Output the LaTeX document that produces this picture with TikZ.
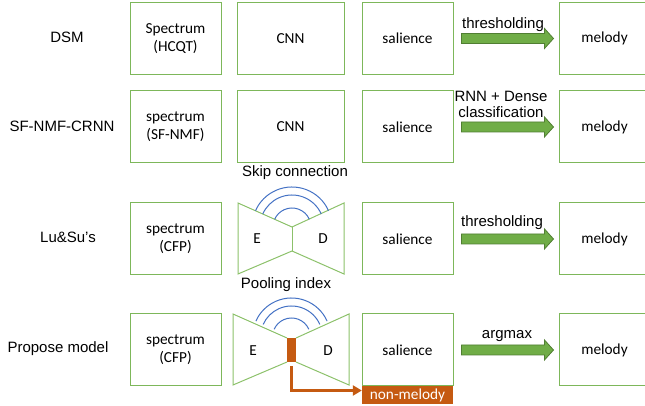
\documentclass[tikz,border=0pt]{standalone}
\usepackage{fontspec}
\setmainfont{Liberation Sans}
\newfontfamily\calfont{Carlito}
\usetikzlibrary{arrows.meta,calc}
\definecolor{boxgreen}{HTML}{7DB75A}
\definecolor{trapgreen}{HTML}{8CC16A}
\definecolor{arrowfill}{HTML}{70AD47}
\definecolor{arrowline}{HTML}{507E32}
\definecolor{arcblue}{HTML}{4472C4}
\definecolor{orangec}{HTML}{C55A11}
\newcommand\garrow[2]{%
  \path ($(#1.east)+(8,0)$) coordinate (ta) ($(#2.west)+(-5,0)$) coordinate (tp);
  \draw[garrowstyle] ($(ta)+(0,5)$) -- ($(tp)+(-9,5)$) -- ($(tp)+(-9,10)$) -- (tp)
    -- ($(tp)+(-9,-10)$) -- ($(tp)+(-9,-5)$) -- ($(ta)+(0,-5)$) -- cycle;}
\newcommand\skiparcs[4]{% center x, center y, outer radius, middle radius
  \foreach \r in {#3,#4,19}{
    \draw[arcstyle] ($(#1,#2)+({\r*cos(24)},{\r*sin(24)})$) arc[start angle=24, end angle=156, radius=\r pt];
  }}
\begin{document}
\begin{tikzpicture}[x=1pt,y=1pt,
  box/.style={draw=boxgreen, line width=1pt, minimum width=91pt, minimum height=72pt,
    inner sep=0pt, align=center, font=\calfont\fontsize{15.3}{18}\selectfont},
  widebox/.style={box, minimum width=107pt},
  lbl/.style={font=\fontsize{15}{17}\selectfont, inner sep=0pt, align=center},
  edtext/.style={font=\calfont\fontsize{15.3}{18}\selectfont, inner sep=0pt},
  trap/.style={draw=trapgreen, line width=1pt, line join=miter},
  arcstyle/.style={draw=arcblue, line width=1pt},
  garrowstyle/.style={fill=arrowfill, draw=arrowline, line width=0.8pt, line join=miter},
  bneckstyle/.style={fill=orangec, draw=none, minimum width=9pt, minimum height=24pt, inner sep=0pt},
  nmstyle/.style={fill=orangec, draw=none, minimum width=91pt, minimum height=18pt, inner sep=0pt,
    text=white, font=\calfont\fontsize{15.3}{18}\selectfont},
  oarrow/.style={draw=orangec, line width=3.5pt, -{Triangle[length=9pt,width=10pt]}}
]
\useasboundingbox (0,0) rectangle (645,406);

% left labels
\node[lbl] (l1) at (67,369) {DSM};
\node[lbl] (l2) at (62,280) {SF-NMF-CRNN};
\node[lbl] (l3) at (68,169) {Lu\&Su’s};
\node[lbl] (l4) at (58,57) {Propose model};

% row 1
\node[box] (spec1) at (175.5,367.5) {Spectrum\\(HCQT)};
\node[widebox] (cnn1) at (290.5,367.5) {CNN};
\node[box] (sal1) at (407.5,367.5) {salience};
\node[box] (mel1) at (604.5,367.5) {melody};
\garrow{sal1}{mel1}
\node[lbl] (t1) at (503,381) {thresholding};

% row 2
\node[box] (spec2) at (175.5,279) {spectrum\\(SF-NMF)};
\node[widebox] (cnn2) at (290.5,279) {CNN};
\node[box] (sal2) at (407.5,279) {salience};
\node[box] (mel2) at (604.5,279) {melody};
\garrow{sal2}{mel2}
\node[lbl, font=\fontsize{15}{16}\selectfont] (t2) at (501,302) {RNN + Dense\\classification};

% row 3
\node[lbl] (skip) at (295,233) {Skip connection};
\node[box] (spec3) at (175.5,167) {spectrum\\(CFP)};
\draw[trap] (238,203) -- (292,179) -- (344,203) -- (344,132) -- (292,155) -- (238,132) -- cycle;
\draw[trap] (292,179) -- (292,155);
\skiparcs{292}{179}{40}{32}
\node[edtext] (e3) at (257,167) {E};
\node[edtext] (d3) at (323,167) {D};
\node[box] (sal3) at (407.5,167) {salience};
\node[box] (mel3) at (604.5,167) {melody};
\garrow{sal3}{mel3}
\node[lbl] (t3) at (502,183) {thresholding};

% row 4
\node[lbl] (pool) at (286,121) {Pooling index};
\node[box] (spec4) at (175.5,56) {spectrum\\(CFP)};
\draw[trap] (287,68) -- (233,92) -- (233,21) -- (287,44);
\draw[trap] (296,68) -- (349,92) -- (349,21) -- (296,44);
\skiparcs{291.5}{69}{39}{31}
\node[bneckstyle] (bneck) at (291.5,56) {};
\node[edtext] (e4) at (253,55) {E};
\node[edtext] (d4) at (328,55) {D};
\node[box] (sal4) at (407.5,56) {salience};
\node[nmstyle] (nm) at (407.5,11) {non-melody};
\node[box] (mel4) at (604.5,56) {melody};
\garrow{sal4}{mel4}
\node[lbl] (t4) at (507,70) {argmax};
\draw[oarrow] ([yshift=-4pt]bneck.south) |- ([yshift=4.5pt]nm.west);
\end{tikzpicture}
\end{document}
